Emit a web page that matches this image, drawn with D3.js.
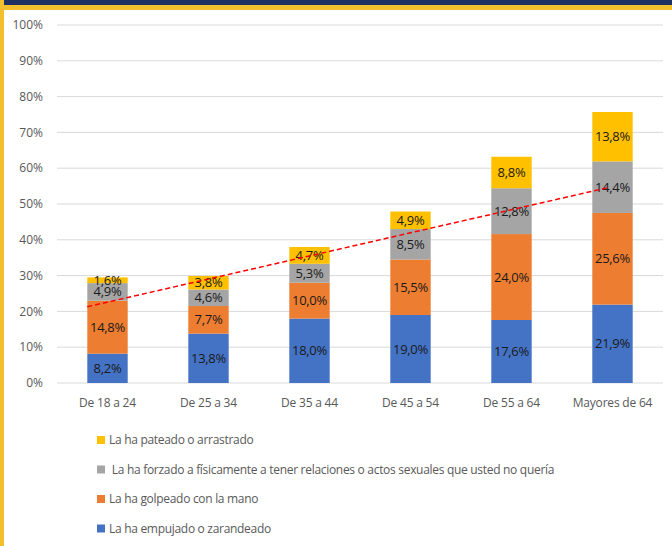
<!DOCTYPE html>
<html>
<head>
<meta charset="utf-8">
<script src="https://cdn.jsdelivr.net/npm/d3@7"></script>
<style>
  html, body { margin: 0; padding: 0; background: #fff; }
  svg text { font-family: "Open Sans", sans-serif; }
</style>
</head>
<body>
<svg id="chart" width="672" height="546"></svg>
<script>
// categories (age groups)
var ageGroups = ["De 18 a 24", "De 25 a 34", "De 35 a 44", "De 45 a 54", "De 55 a 64", "Mayores de 64"];

// series values, in %
var empujado = [8.2, 13.8, 18.0, 19.0, 17.6, 21.9];
var golpeado = [14.8, 7.7, 10.0, 15.5, 24.0, 25.6];
var forzado  = [4.9, 4.6, 5.3, 8.5, 12.8, 14.4];
var pateado  = [1.6, 3.8, 4.7, 4.9, 8.8, 13.8];

var seriesNames = [
  "La ha empujado o zarandeado",
  "La ha golpeado con la mano",
  " La ha forzado a físicamente a tener relaciones o actos sexuales que usted no quería",
  "La ha pateado o arrastrado"
];
var seriesColors = ["#4472C4", "#ED7D31", "#A5A5A5", "#FFC000"];

// y ticks
var yTicks = [0, 10, 20, 30, 40, 50, 60, 70, 80, 90, 100];

// dashed trend line endpoints (category position, value %)
var trendPos = [0.8, 5.96];
var trendVal = [21.3, 54.6];

(function() {
  var svg = d3.select("#chart"),
      plotLeft = 57, plotRight = 663, plotTop = 25, plotBottom = 383;

  // frame
  svg.append("rect").attr("x", 0).attr("y", 0).attr("width", 672).attr("height", 546).attr("fill", "#fff");
  svg.append("rect").attr("x", 0).attr("y", 0).attr("width", 672).attr("height", 10).attr("fill", "#F2BF2E");
  svg.append("rect").attr("x", 0).attr("y", 0).attr("width", 672).attr("height", 5).attr("fill", "#1E3163");
  svg.append("rect").attr("x", 0).attr("y", 0).attr("width", 4).attr("height", 546).attr("fill", "#F2BF2E");

  var x = d3.scaleBand().domain(ageGroups).range([plotLeft, plotRight]).padding(0);
  var xi = d3.scaleLinear().domain([0.5, ageGroups.length + 0.5]).range([plotLeft, plotRight]);
  var y = d3.scaleLinear().domain([0, 100]).range([plotBottom, plotTop]);
  var barW = x.bandwidth() * 0.4;

  // gridlines + tick labels
  var grid = svg.append("g");
  grid.selectAll("line").data(yTicks).enter().append("line")
    .attr("x1", plotLeft).attr("x2", plotRight)
    .attr("y1", function(d) { return y(d); }).attr("y2", function(d) { return y(d); })
    .attr("stroke", "#D9D9D9").attr("stroke-width", 1);
  grid.selectAll("text").data(yTicks).enter().append("text")
    .attr("x", 43).attr("y", function(d) { return y(d); })
    .attr("dy", "0.35em").attr("text-anchor", "end")
    .attr("font-size", 12).attr("fill", "#595959")
    .text(function(d) { return d + "%"; });

  // stack
  var rows = ageGroups.map(function(g, i) {
    return { group: g, s0: empujado[i], s1: golpeado[i], s2: forzado[i], s3: pateado[i] };
  });
  var stack = d3.stack().keys(["s0", "s1", "s2", "s3"])(rows);

  var layers = svg.selectAll(".layer").data(stack).enter().append("g")
    .attr("class", "layer")
    .attr("fill", function(d, i) { return seriesColors[i]; });

  layers.selectAll("rect").data(function(d) { return d; }).enter().append("rect")
    .attr("x", function(d) { return x(d.data.group) + (x.bandwidth() - barW) / 2; })
    .attr("width", barW)
    .attr("y", function(d) { return y(d[1]); })
    .attr("height", function(d) { return y(d[0]) - y(d[1]); });

  // trend line
  svg.append("line")
    .attr("x1", xi(trendPos[0])).attr("y1", y(trendVal[0]))
    .attr("x2", xi(trendPos[1])).attr("y2", y(trendVal[1]))
    .attr("stroke", "#FF0000").attr("stroke-width", 1.5)
    .attr("stroke-dasharray", "5,3");

  // data labels
  layers.selectAll("text").data(function(d) { return d; }).enter().append("text")
    .attr("x", function(d) { return x(d.data.group) + x.bandwidth() / 2; })
    .attr("y", function(d) { return (y(d[0]) + y(d[1])) / 2; })
    .attr("dy", "0.35em").attr("text-anchor", "middle")
    .attr("font-size", 13).attr("fill", "#1A1A1A")
    .attr("letter-spacing", -0.3)
    .text(function(d) { return (d[1] - d[0]).toFixed(1).replace(".", ",") + "%"; });

  // x axis labels
  svg.append("g").selectAll("text").data(ageGroups).enter().append("text")
    .attr("x", function(d) { return x(d) + x.bandwidth() / 2; })
    .attr("y", 403).attr("dy", "0.35em").attr("text-anchor", "middle")
    .attr("font-size", 12).attr("fill", "#595959")
    .attr("letter-spacing", -0.2)
    .text(function(d) { return d; });

  // legend (top item is the last series)
  var legendOrder = [3, 2, 1, 0];
  var legend = svg.append("g").selectAll("g").data(legendOrder).enter().append("g")
    .attr("transform", function(d, i) { return "translate(97," + (440 + i * 29.5) + ")"; });
  legend.append("rect")
    .attr("x", 0).attr("y", -4).attr("width", 8).attr("height", 8)
    .attr("fill", function(d) { return seriesColors[d]; });
  legend.append("text")
    .attr("x", 12).attr("dy", "0.35em")
    .attr("font-size", 12).attr("fill", "#595959")
    .attr("letter-spacing", -0.3)
    .style("white-space", "pre")
    .text(function(d) { return seriesNames[d]; });
})();
</script>
</body>
</html>
